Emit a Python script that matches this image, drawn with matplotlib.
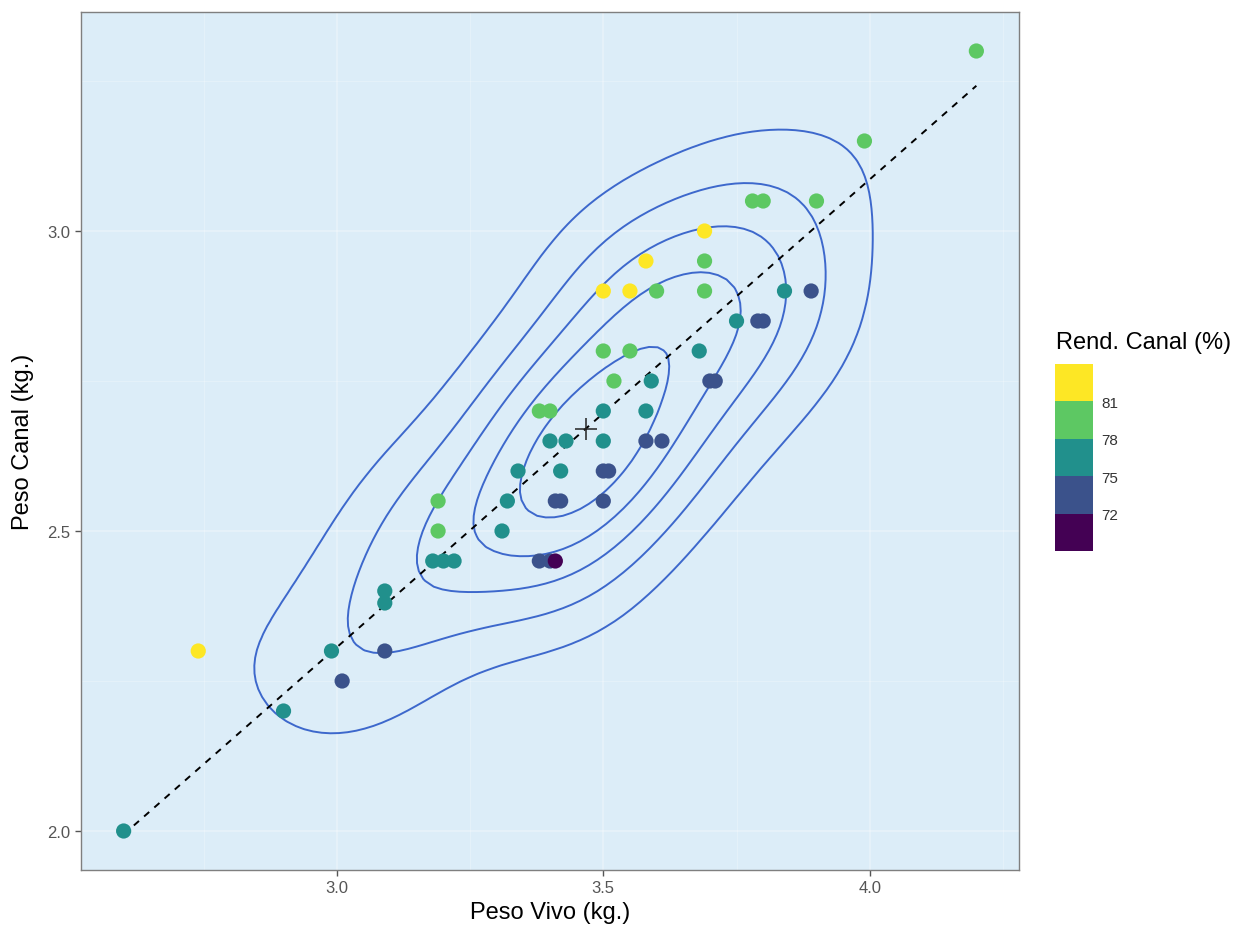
import numpy as np
import matplotlib
matplotlib.use("Agg")
import matplotlib.pyplot as plt
from matplotlib.colors import ListedColormap, BoundaryNorm
from matplotlib.ticker import MultipleLocator

plt.rcParams['font.family'] = ['Liberation Sans', 'DejaVu Sans']

# Peso vivo (kg.), peso canal (kg.) and rendimiento canal (%) per animal
peso_vivo = [4.20, 3.99, 3.78, 3.80, 3.90, 3.69, 3.58, 3.69, 3.50, 3.55,
             3.60, 3.69, 3.84, 3.89, 3.75, 3.79, 3.80, 3.50, 3.55, 3.68,
             3.52, 3.59, 3.70, 3.71, 3.38, 3.40, 3.50, 3.58, 3.40, 3.43,
             3.50, 3.58, 3.61, 3.34, 3.42, 3.50, 3.51, 3.19, 3.32, 3.41,
             3.42, 3.50, 3.19, 3.31, 3.18, 3.20, 3.22, 3.38, 3.40, 3.41,
             3.09, 3.09, 3.09, 2.99, 2.74, 3.01, 2.90, 2.60]
peso_canal = [3.30, 3.15, 3.05, 3.05, 3.05, 3.00, 2.95, 2.95, 2.90, 2.90,
              2.90, 2.90, 2.90, 2.90, 2.85, 2.85, 2.85, 2.80, 2.80, 2.80,
              2.75, 2.75, 2.75, 2.75, 2.70, 2.70, 2.70, 2.70, 2.65, 2.65,
              2.65, 2.65, 2.65, 2.60, 2.60, 2.60, 2.60, 2.55, 2.55, 2.55,
              2.55, 2.55, 2.50, 2.50, 2.45, 2.45, 2.45, 2.45, 2.45, 2.45,
              2.40, 2.38, 2.30, 2.30, 2.30, 2.25, 2.20, 2.00]
rend_canal = [78.6, 78.9, 80.7, 80.3, 78.2, 81.3, 82.4, 79.9, 82.9, 81.7,
              80.6, 78.6, 75.5, 74.6, 76.0, 74.9, 74.9, 80.0, 78.9, 76.1,
              78.1, 76.6, 74.3, 74.1, 79.9, 79.4, 77.1, 75.4, 77.9, 77.3,
              75.7, 74.0, 73.4, 77.8, 76.0, 74.3, 74.1, 79.9, 77.0, 74.8,
              74.6, 72.9, 78.4, 75.5, 77.0, 76.6, 76.1, 72.5, 72.1, 71.8,
              77.7, 77.0, 74.4, 76.9, 83.9, 74.8, 75.9, 76.9]

rend_breaks = [69, 72, 75, 78, 81, 84]
rend_colors = ['#440154', '#3B528B', '#21908C', '#5DC863', '#FDE725']
legend_ticks = [72, 75, 78, 81]
density_levels = [0.5, 1.0, 1.5, 2.0, 2.5]

x = np.array(peso_vivo)
y = np.array(peso_canal)


def bandwidth_nrd(v):
    q1, q3 = np.quantile(v, [0.25, 0.75])
    return 4 * 1.06 * min(np.std(v, ddof=1), (q3 - q1) / 1.34) * len(v) ** (-0.2)


def kde2d(x, y, n=100):
    # same idea as MASS::kde2d (what ggplot's stat_density_2d uses)
    hx, hy = bandwidth_nrd(x) / 4, bandwidth_nrd(y) / 4
    gx = np.linspace(x.min(), x.max(), n)
    gy = np.linspace(y.min(), y.max(), n)
    kx = np.exp(-0.5 * ((gx[:, None] - x[None, :]) / hx) ** 2) / np.sqrt(2 * np.pi)
    ky = np.exp(-0.5 * ((gy[:, None] - y[None, :]) / hy) ** 2) / np.sqrt(2 * np.pi)
    z = kx @ ky.T / (len(x) * hx * hy)
    return gx, gy, z.T


gx, gy, dens = kde2d(x, y)

fig = plt.figure(figsize=(12.36, 9.28), dpi=100)
ax = fig.add_axes([81 / 1236, 57 / 928, 938 / 1236, 858 / 928])
ax.set_facecolor('#dcedf8')

# density contours
ax.contour(gx, gy, dens, levels=density_levels, colors='#3d68cc', linewidths=1.4)

# linear fit, dashed
slope, intercept = np.polyfit(x, y, 1)
xl = np.array([x.min(), x.max()])
ax.plot(xl, intercept + slope * xl, color='black', lw=1.4, ls=(0, (3.5, 3.5)))

cmap = ListedColormap(rend_colors)
norm = BoundaryNorm(rend_breaks, cmap.N)
sc = ax.scatter(x, y, c=rend_canal, cmap=cmap, norm=norm, s=120, edgecolors='none', zorder=3)

# mean point
ax.plot(x.mean(), y.mean(), marker='+', ms=16, mew=1.1, color='#222222', zorder=4)

dx = (x.max() - x.min()) * 0.05
dy = (y.max() - y.min()) * 0.05
ax.set_xlim(x.min() - dx, x.max() + dx)
ax.set_ylim(y.min() - dy, y.max() + dy)

ax.xaxis.set_major_locator(MultipleLocator(0.5))
ax.yaxis.set_major_locator(MultipleLocator(0.5))
ax.xaxis.set_minor_locator(MultipleLocator(0.25))
ax.yaxis.set_minor_locator(MultipleLocator(0.25))
ax.xaxis.set_major_formatter(lambda v, p: f"{v:.1f}")
ax.yaxis.set_major_formatter(lambda v, p: f"{v:.1f}")
ax.set_axisbelow(True)
ax.grid(which='major', color='white', lw=1.1, alpha=0.35)
ax.grid(which='minor', color='white', lw=0.6, alpha=0.3)
ax.tick_params(which='major', length=4, width=1, color='#555555', labelcolor='#555555', labelsize=12)
ax.tick_params(which='minor', length=0)
for sp in ax.spines.values():
    sp.set_color('#7f7f7f')
    sp.set_linewidth(1.0)

ax.set_xlabel('Peso Vivo (kg.)', fontsize=17, labelpad=4)
ax.set_ylabel('Peso Canal (kg.)', fontsize=17, labelpad=10)

# binned colour legend
cax = fig.add_axes([1055 / 1236, 376 / 928, 38 / 1236, 187 / 928])
cb = fig.colorbar(sc, cax=cax, ticks=legend_ticks)
cb.outline.set_visible(False)
cax.minorticks_off()
cax.tick_params(which='both', length=0, labelsize=11, pad=6, labelcolor='#333333')
fig.text(1056 / 1236, (928 - 343) / 928, 'Rend. Canal (%)', fontsize=17, va='center', ha='left')

fig.savefig('out.png', dpi=100)
